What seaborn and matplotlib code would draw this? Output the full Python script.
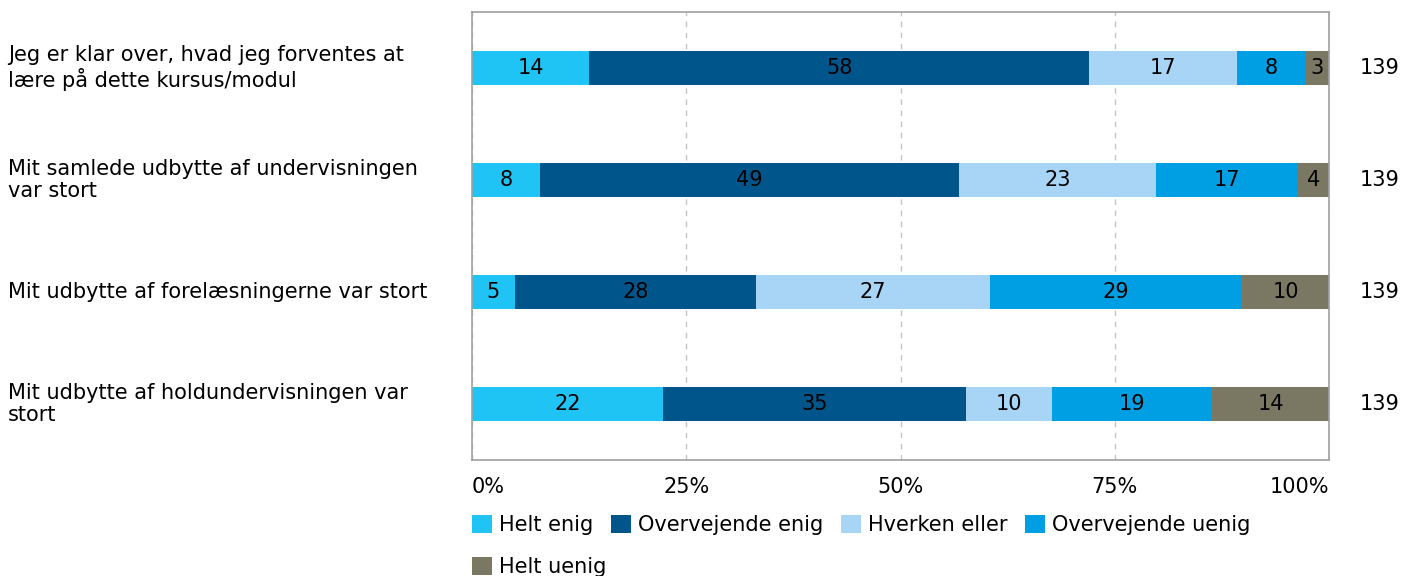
import pandas as pd
import numpy as np
import matplotlib
matplotlib.use("Agg")
import matplotlib.pyplot as plt
import matplotlib.transforms as mtransforms
from matplotlib.patches import Patch
import seaborn as sns

# Data
questions = [
    "Jeg er klar over, hvad jeg forventes at\nlære på dette kursus/modul",
    "Mit samlede udbytte af undervisningen\nvar stort",
    "Mit udbytte af forelæsningerne var stort",
    "Mit udbytte af holdundervisningen var\nstort",
]
answers = ["Helt enig", "Overvejende enig", "Hverken eller", "Overvejende uenig", "Helt uenig"]
helt_enig = [13.7, 7.9, 5.0, 22.3]
overv_enig = [58.3, 48.9, 28.1, 35.3]
hverken = [17.3, 23.0, 27.3, 10.1]
overv_uenig = [7.9, 16.5, 29.5, 18.7]
helt_uenig = [2.9, 3.7, 10.1, 13.6]
shown_labels = [
    [14, 58, 17, 8, 3],
    [8, 49, 23, 17, 4],
    [5, 28, 27, 29, 10],
    [22, 35, 10, 19, 14],
]
n_resp = [139, 139, 139, 139]
xticks = [0, 25, 50, 75, 100]
xtick_labels = ["0%", "25%", "50%", "75%", "100%"]

colors = ["#20c4f4", "#00558a", "#a8d5f5", "#009fe3", "#7a7763"]

df = pd.DataFrame({
    "question": questions,
    "Helt enig": helt_enig,
    "Overvejende enig": overv_enig,
    "Hverken eller": hverken,
    "Overvejende uenig": overv_uenig,
    "Helt uenig": helt_uenig,
})
cum = df[answers].cumsum(axis=1)

sns.set_style("white")
plt.rcParams["font.family"] = ["DejaVu Sans"]
plt.rcParams["text.color"] = "black"
plt.rcParams["xtick.color"] = "black"
fs = 15

fig = plt.figure(figsize=(14.15, 5.76), dpi=100)
ax = fig.add_axes([472 / 1415, 1 - 460 / 576, (1329 - 472) / 1415, 448 / 576])

# stacked bars: draw cumulative totals from the widest back to the narrowest
for ans, col in reversed(list(zip(answers, colors))):
    sns.barplot(x=cum[ans], y=df["question"], orient="h", color=col, width=0.3,
                saturation=1, ax=ax, order=questions, zorder=2, linewidth=0,
                edgecolor="none")

# segment labels
for i in range(len(questions)):
    for j, ans in enumerate(answers):
        val = df.loc[i, ans]
        center = cum.loc[i, ans] - val / 2
        ax.text(center, i, str(shown_labels[i][j]), ha="center", va="center",
                fontsize=fs, color="black", zorder=3)

ax.set_xlim(0, 100)
ax.set_xticks(xticks)
ax.set_xticklabels(xtick_labels, fontsize=fs)
tl = ax.get_xticklabels()
tl[0].set_ha("left")
tl[-1].set_ha("right")
ax.tick_params(axis="x", length=0, pad=12)
ax.tick_params(axis="y", length=0)
ax.set_yticklabels([])
ax.set_xlabel("")
ax.set_ylabel("")
ax.xaxis.grid(True, linestyle=(0, (4, 4)), color="#c4c4c4", linewidth=1)
ax.set_axisbelow(True)
for sp in ax.spines.values():
    sp.set_visible(True)
    sp.set_color("#a0a0a0")
    sp.set_linewidth(1.2)

# question labels and response counts
trans = mtransforms.blended_transform_factory(fig.transFigure, ax.transData)
for i, q in enumerate(questions):
    ax.text(8 / 1415, i, q, transform=trans, ha="left", va="center",
            fontsize=fs, linespacing=1.17)
    ax.text(1380 / 1415, i, str(n_resp[i]), transform=trans, ha="center",
            va="center", fontsize=fs)

# legend: first four entries on one row, last one wrapped below
handles = [Patch(facecolor=c, edgecolor="none", label=a) for a, c in zip(answers, colors)]
leg_kw = dict(loc="upper left", frameon=False, fontsize=fs, handlelength=0.95,
              handleheight=0.95, handletextpad=0.35, columnspacing=0.85,
              borderaxespad=0, borderpad=0)
fig.legend(handles=handles[:4], ncol=4, bbox_to_anchor=(472 / 1415, 1 - 515 / 576), **leg_kw)
fig.legend(handles=handles[4:], ncol=1, bbox_to_anchor=(472 / 1415, 1 - 557 / 576), **leg_kw)

fig.savefig("out.png", dpi=100)
